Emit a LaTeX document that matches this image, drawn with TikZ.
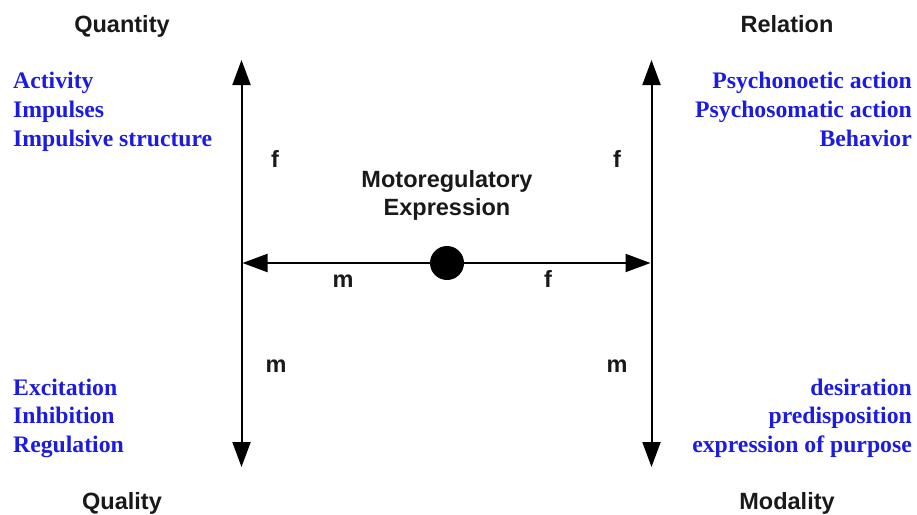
\documentclass[tikz,border=0pt]{standalone}
\usepackage{fontspec}
\setmainfont{Liberation Serif}
\setsansfont{Liberation Sans}
\usetikzlibrary{arrows.meta}
\definecolor{txtblue}{RGB}{28,28,225}
\tikzset{
  lab/.style={font=\sffamily\bfseries\fontsize{23.5}{28}\selectfont, inner sep=0pt, text=black!90},
  bl/.style={font=\rmfamily\bfseries\fontsize{23.7}{29}\selectfont, inner sep=0pt, text=txtblue},
  axis/.style={line width=2pt, -{Triangle[length=25pt,width=18pt]}, shorten >=0pt},
}
\begin{document}
\begin{tikzpicture}[x=1pt,y=-1pt]
\useasboundingbox (0,0) rectangle (917,514);
% axes
\coordinate (LT) at (241.5,60);
\coordinate (LB) at (241.5,467);
\coordinate (LM) at (241.5,263);
\coordinate (RT) at (651.5,60);
\coordinate (RB) at (651.5,467);
\coordinate (RM) at (651.5,263);
\coordinate (HL) at (242.5,263);
\coordinate (HR) at (650.5,263);
\node[circle, fill=black, minimum size=34pt, inner sep=0pt] (dot) at (447,263) {};
\draw[axis] (LM) -- (LT);
\draw[axis] (LM) -- (LB);
\draw[axis] (RM) -- (RT);
\draw[axis] (RM) -- (RB);
\draw[axis] (dot) -- (HL);
\draw[axis] (dot) -- (HR);
% corner titles
\node[lab, anchor=base] (quantity) at (122,32) {Quantity};
\node[lab, anchor=base] (relation) at (787,32) {Relation};
\node[lab, anchor=base] (quality) at (122,509) {Quality};
\node[lab, anchor=base] (modality) at (787,509) {Modality};
% centre
\node[lab, anchor=base] (moto1) at (447,187) {Motoregulatory};
\node[lab, anchor=base] (moto2) at (447,215) {Expression};
% f / m labels
\node[lab, anchor=base] (fTL) at (275,167) {f};
\node[lab, anchor=base] (fTR) at (617,167) {f};
\node[lab, anchor=base] (mH) at (343,287) {m};
\node[lab, anchor=base] (fH) at (548,287) {f};
\node[lab, anchor=base] (mBL) at (276,372) {m};
\node[lab, anchor=base] (mBR) at (617,372) {m};
% blue lists
\node[bl, anchor=base west] (a1) at (13,88) {Activity};
\node[bl, anchor=base west] (a2) at (13,117) {Impulses};
\node[bl, anchor=base west] (a3) at (13,146) {Impulsive structure};
\node[bl, anchor=base east] (b1) at (912,88) {Psychonoetic action};
\node[bl, anchor=base east] (b2) at (912,117) {Psychosomatic action};
\node[bl, anchor=base east] (b3) at (912,146) {Behavior};
\node[bl, anchor=base west] (c1) at (13,395) {Excitation};
\node[bl, anchor=base west] (c2) at (13,423) {Inhibition};
\node[bl, anchor=base west] (c3) at (13,452) {Regulation};
\node[bl, anchor=base east] (d1) at (912,395) {desiration};
\node[bl, anchor=base east] (d2) at (912,423) {predisposition};
\node[bl, anchor=base east] (d3) at (912,452) {expression of purpose};
\end{tikzpicture}
\end{document}
